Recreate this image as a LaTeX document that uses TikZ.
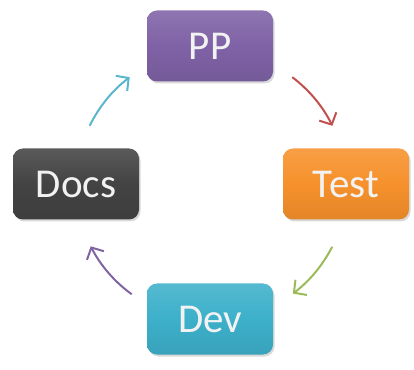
\documentclass[tikz,border=0pt]{standalone}
\usepackage{fontspec}
\setmainfont{Carlito}
\usepackage{xcolor}
\usetikzlibrary{arrows.meta, shadows}

\definecolor{ppcol}{HTML}{7F62A6}
\definecolor{testcol}{HTML}{F6912C}
\definecolor{devcol}{HTML}{3DB0CA}
\definecolor{docscol}{HTML}{434343}
\definecolor{arrcyan}{HTML}{5AB6CC}
\definecolor{arrred}{HTML}{C0504D}
\definecolor{arrgreen}{HTML}{9BBB59}
\definecolor{arrpurple}{HTML}{8064A2}

\begin{document}
\begin{tikzpicture}[
    x=1pt, y=1pt,
    stage/.style={rectangle, rounded corners=10pt, minimum width=126pt, minimum height=71pt,
        text=white!95!black, font=\fontsize{41}{43}\selectfont,
        top color=#1!88!white, bottom color=#1!92!black, middle color=#1,
        drop shadow={opacity=0.3, shadow xshift=1.5pt, shadow yshift=-2pt}},
    cycarrow/.style={line width=2pt, -{Straight Barb[length=9pt, width=19pt, line width=2pt]}}
]
    \useasboundingbox (0,0) rectangle (414,369);

    % Stages
    \node[stage=ppcol] (pp) at (210,323) {PP};
    \node[stage=testcol] (test) at (346,185) {Test};
    \node[stage=devcol] (dev) at (210,50) {Dev};
    \node[stage=docscol] (docs) at (76,185) {Docs};

    % Cycle arrows
    \coordinate (cyc) at (211,184);
    \draw[cycarrow, arrcyan] ([shift={(154:135)}]cyc) arc[start angle=154, end angle=127, radius=135];
    \draw[cycarrow, arrred] ([shift={(53:135)}]cyc) arc[start angle=53, end angle=26, radius=135];
    \draw[cycarrow, arrgreen] ([shift={(-27:136)}]cyc) arc[start angle=-27, end angle=-53, radius=136];
    \draw[cycarrow, arrpurple] ([shift={(234:135)}]cyc) arc[start angle=234, end angle=207, radius=135];
\end{tikzpicture}
\end{document}
